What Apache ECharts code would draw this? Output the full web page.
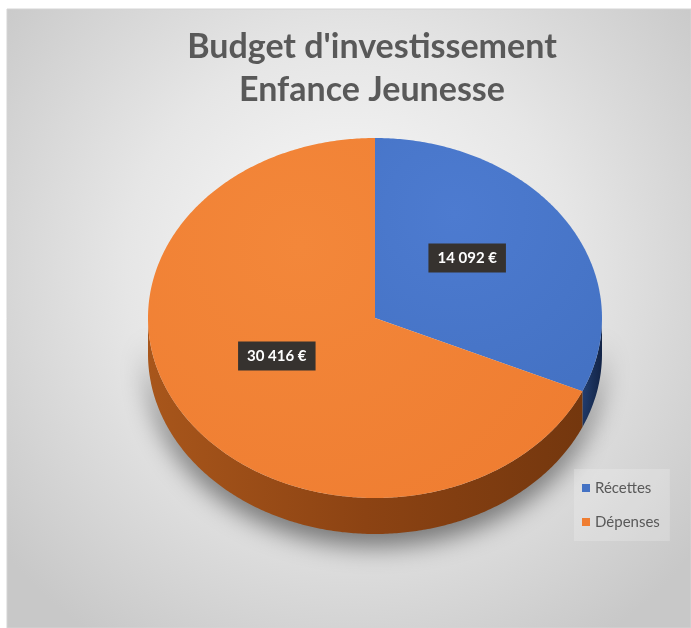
<!DOCTYPE html>
<html>
<head>
<meta charset="utf-8">
<script src="https://cdn.jsdelivr.net/npm/echarts@6/dist/echarts.min.js"></script>
<style>
  html, body { margin: 0; padding: 0; background: #ffffff; }
  #chart { width: 691px; height: 628px; }
</style>
</head>
<body>
<div id="chart"></div>
<script>
// Budget figures
const titleLines = ["Budget d'investissement", 'Enfance Jeunesse'];
const categories = ['Récettes', 'Dépenses'];
const values = [14092, 30416];

// Slice styling (top face, side wall)
const faceColors = ['#4472C4', '#EF7D31'];
const faceLight = ['#4d7bd0', '#f3873a'];
const wallColors = [
  ['#233f73', '#1a3059', '#132446'],
  ['#a8561b', '#8c4313', '#74370e']
];

// Pie projection
const CX = 375, CY = 318, RX = 227, RY = 180, DEPTH = 36;

const total = values.reduce((a, b) => a + b, 0);
const starts = [];
values.reduce((acc, v, i) => { starts[i] = acc; return acc + v; }, 0);

function fmtEuro(v) {
  return String(v).replace(/\B(?=(\d{3})+(?!\d))/g, ' ') + ' €';
}

function rimPoint(a, dy) {
  return [CX + RX * Math.sin(a), CY - RY * Math.cos(a) + dy];
}

function arc(a0, a1, dy) {
  const pts = [];
  const n = Math.max(2, Math.ceil(Math.abs(a1 - a0) / 0.01));
  for (let k = 0; k <= n; k++) {
    pts.push(rimPoint(a0 + (a1 - a0) * k / n, dy));
  }
  return pts;
}

function makeRenderer(idx) {
  return function (params, api) {
    const start = api.value(0), val = api.value(1), sum = api.value(2);
    const a0 = start / sum * Math.PI * 2;
    const a1 = (start + val) / sum * Math.PI * 2;
    const children = [];

    // front wall (visible lower half of the rim)
    const s = Math.max(a0, Math.PI / 2), e = Math.min(a1, Math.PI * 1.5);
    if (s < e) {
      const pts = arc(s, e, 0).concat(arc(e, s, DEPTH));
      const wc = wallColors[idx];
      children.push({
        type: 'polygon',
        z2: 1,
        shape: { points: pts },
        style: {
          fill: new echarts.graphic.LinearGradient(0, 0, 1, 0, [
            { offset: 0, color: wc[0] },
            { offset: 0.5, color: wc[1] },
            { offset: 1, color: wc[2] }
          ], false),
          shadowBlur: 26,
          shadowOffsetY: 12,
          shadowColor: 'rgba(0,0,0,0.5)'
        }
      });
    }

    // top face
    children.push({
      type: 'polygon',
      z2: 10,
      shape: { points: [[CX, CY]].concat(arc(a0, a1, 0)) },
      style: {
        fill: new echarts.graphic.RadialGradient(0.35, 0.3, 0.9, [
          { offset: 0, color: faceLight[idx] },
          { offset: 1, color: faceColors[idx] }
        ], false)
      }
    });

    // value callout
    const mid = (a0 + a1) / 2;
    children.push({
      type: 'text',
      z2: 30,
      x: CX + 0.5 * RX * Math.sin(mid) - 3,
      y: CY - 0.5 * RY * Math.cos(mid) - 11,
      style: {
        text: fmtEuro(val),
        fill: '#ffffff',
        fontFamily: 'Lato',
        fontWeight: 'bold',
        fontSize: 15,
        align: 'center',
        verticalAlign: 'middle',
        backgroundColor: '#36322f',
        padding: [7, 9, 7, 9],
        boxShadowBlur: 5,
        boxShadowColor: 'rgba(0,0,0,0.45)',
        boxShadowOffsetX: 2,
        boxShadowOffsetY: 2
      }
    });

    return { type: 'group', children: children };
  };
}

const chart = echarts.init(document.getElementById('chart'), null, { renderer: 'canvas' });

chart.setOption({
  backgroundColor: '#ffffff',
  animation: false,
  graphic: [{
    type: 'rect',
    z: -10,
    shape: { x: 7, y: 9, width: 684, height: 619 },
    style: {
      fill: new echarts.graphic.RadialGradient(0.5, 0.42, 0.72, [
        { offset: 0, color: '#fbfbfb' },
        { offset: 0.5, color: '#e6e6e6' },
        { offset: 1, color: '#c8c8c8' }
      ], false),
      stroke: '#d4d4d4',
      lineWidth: 1
    }
  }],
  title: {
    text: titleLines.join('\n'),
    left: 367,
    top: 21,
    textAlign: 'center',
    textStyle: {
      fontFamily: 'Lato',
      fontWeight: 'bold',
      fontSize: 34,
      lineHeight: 43,
      color: '#595959'
    }
  },
  legend: {
    data: categories,
    orient: 'vertical',
    left: 574,
    top: 469,
    padding: [11, 10, 11, 8],
    backgroundColor: 'rgba(255,255,255,0.2)',
    icon: 'rect',
    itemWidth: 8,
    itemHeight: 8,
    itemGap: 18,
    textStyle: {
      fontFamily: 'Lato',
      fontSize: 15,
      lineHeight: 16,
      color: '#595959'
    }
  },
  series: categories.map((name, i) => ({
    type: 'custom',
    name: name,
    coordinateSystem: 'none',
    itemStyle: { color: faceColors[i] },
    renderItem: makeRenderer(i),
    data: [[starts[i], values[i], total]]
  }))
});
</script>
</body>
</html>
